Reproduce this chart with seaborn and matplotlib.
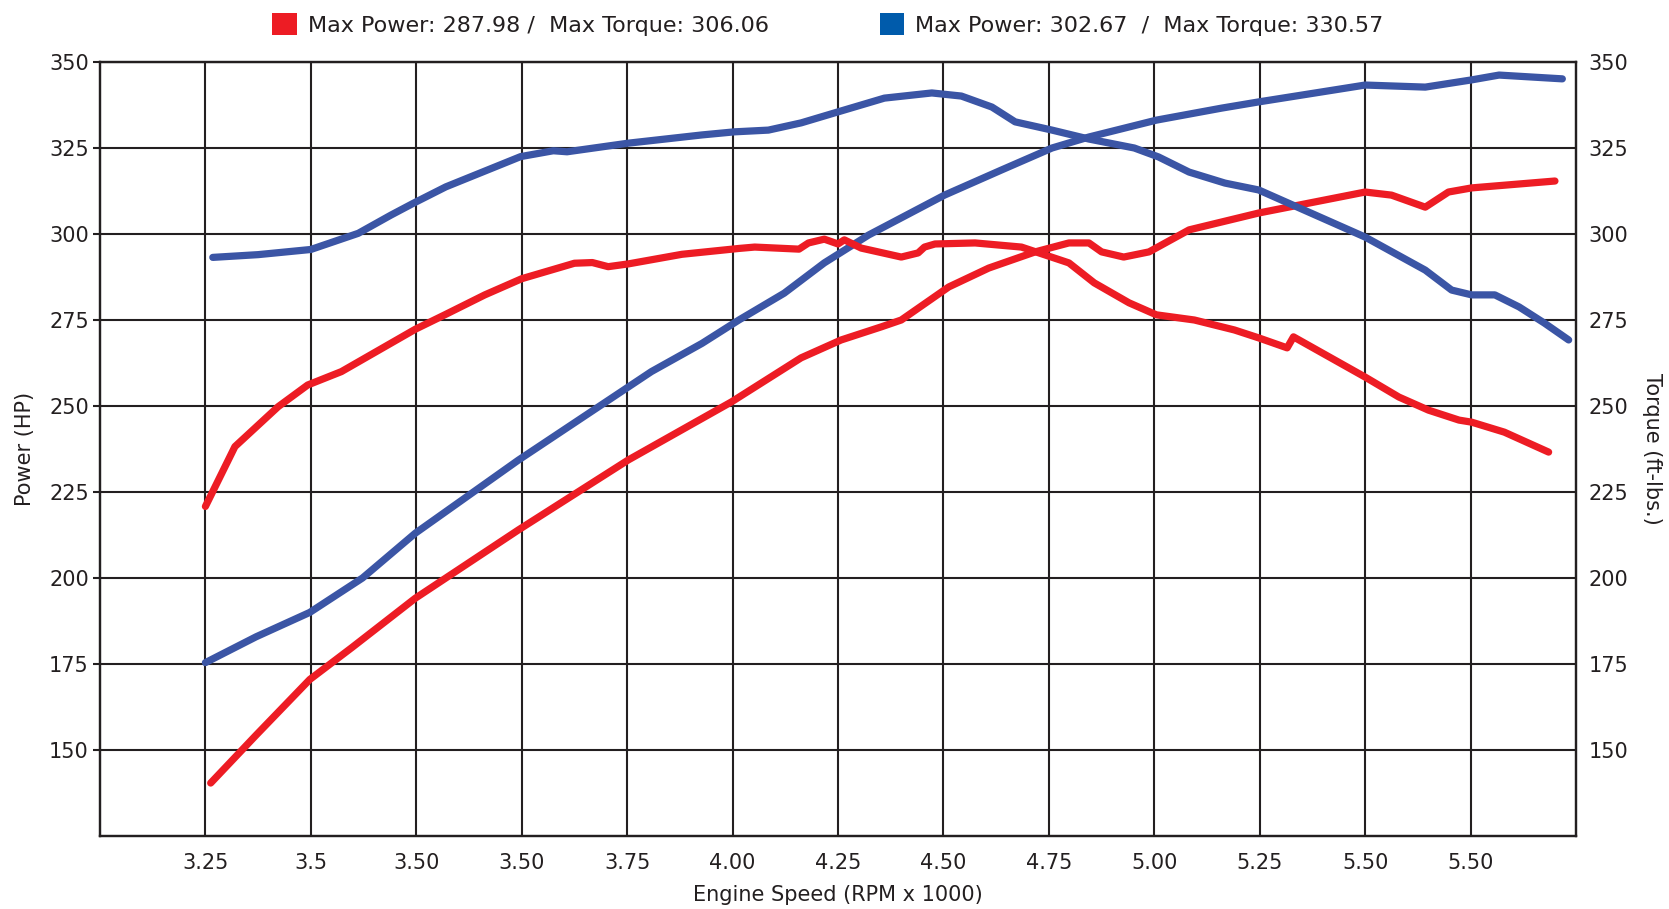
import numpy as np
import pandas as pd
import seaborn as sns
import matplotlib.pyplot as plt
from matplotlib.patches import Patch

# tick labels (as printed on the chart)
rpm_labels = ['3.25', '3.5', '3.50', '3.50', '3.75', '4.00', '4.25',
              '4.50', '4.75', '5.00', '5.25', '5.50', '5.50']
y_ticks = [150, 175, 200, 225, 250, 275, 300, 325, 350]

# run 1 (red) - x in tick-index units
red_power_x = [0.05, 0.48, 0.99, 1.39, 1.99, 2.97, 4.01, 4.99, 5.65, 6.03, 6.41, 6.6, 7.05,
               7.43, 7.87, 8.19, 8.38, 8.5, 8.71, 8.95, 9.33, 9.99, 11.0, 11.25, 11.57,
               11.79, 12.01, 12.8]
red_power_y = [140.4, 154.3, 170.5, 179.8, 194.1, 214.0, 234.3, 251.2, 264.0, 269.2, 273.0,
               275.0, 284.6, 290.1, 294.8, 297.4, 297.4, 294.8, 293.3, 294.8, 301.2, 306.1,
               312.2, 311.3, 307.8, 312.2, 313.4, 315.4]

red_torque_x = [0.0, 0.28, 0.69, 0.97, 1.29, 1.99, 2.27, 2.65, 3.0, 3.5, 3.67, 3.82, 4.01,
                4.52, 5.06, 5.21, 5.63, 5.72, 5.87, 6.0, 6.06, 6.22, 6.6, 6.76, 6.82, 6.92,
                7.3, 7.74, 8.19, 8.43, 8.76, 9.02, 9.38, 9.76, 9.99, 10.26, 10.32, 11.0,
                11.32, 11.6, 11.89, 12.01, 12.32, 12.74]
red_torque_y = [220.8, 238.2, 249.8, 256.1, 260.0, 272.3, 276.5, 282.3, 287.0, 291.5, 291.7,
                290.5, 291.3, 294.1, 295.8, 296.2, 295.6, 297.4, 298.5, 297.1, 298.3, 295.9,
                293.3, 294.5, 296.2, 297.1, 297.4, 296.2, 291.6, 285.8, 280.0, 276.5, 275.0,
                272.1, 269.8, 266.9, 270.1, 258.4, 252.6, 248.8, 245.9, 245.3, 242.4, 236.6]

# run 2 (blue)
blue_power_x = [0.0, 0.48, 0.99, 1.49, 1.99, 2.97, 4.23, 4.71, 5.06, 5.49, 5.87, 6.29,
                7.01, 7.55, 8.03, 8.38, 9.02, 9.64, 9.99, 11.0, 11.57, 12.01, 12.27, 12.87]
blue_power_y = [175.4, 182.9, 190.0, 200.0, 213.0, 234.3, 260.0, 268.2, 275.0, 282.8,
                291.6, 299.7, 311.3, 318.6, 325.0, 328.2, 333.1, 336.6, 338.4, 343.3, 342.7,
                344.8, 346.2, 345.1]

blue_torque_x = [0.07, 0.5, 1.0, 1.45, 1.76, 1.97, 2.28, 2.99, 3.3, 3.43, 4.01, 4.71, 5.02,
                 5.34, 5.65, 6.0, 6.44, 6.89, 7.17, 7.46, 7.68, 8.03, 8.38, 8.81, 9.04, 9.33,
                 9.67, 9.99, 11.0, 11.57, 11.82, 12.01, 12.23, 12.46, 12.7, 12.93]
blue_torque_y = [293.2, 294.0, 295.5, 300.2, 305.5, 308.9, 313.7, 322.5, 324.2, 323.9, 326.4,
                 328.8, 329.7, 330.2, 332.3, 335.5, 339.5, 341.0, 340.1, 336.9, 332.6, 330.2,
                 327.6, 325.0, 322.4, 318.0, 314.8, 312.8, 299.1, 289.5, 283.7, 282.3, 282.3,
                 278.8, 274.1, 269.2]

red = '#ed1c24'
blue = '#3b55a5'
dark = '#231f20'

sns.set_style('white')
plt.rcParams['font.family'] = ['DejaVu Sans']

fig = plt.figure(figsize=(16.69, 9.09), dpi=100)
ax = fig.add_axes([0.0599, 0.0803, 0.8844, 0.8515])
ax2 = ax.twinx()

lw = 5.2
style = dict(linewidth=lw, sort=False, solid_capstyle='round', solid_joinstyle='round')
sns.lineplot(x=red_power_x, y=red_power_y, ax=ax, color=red, **style)
sns.lineplot(x=red_torque_x, y=red_torque_y, ax=ax2, color=red, **style)
sns.lineplot(x=blue_power_x, y=blue_power_y, ax=ax, color=blue, **style)
sns.lineplot(x=blue_torque_x, y=blue_torque_y, ax=ax2, color=blue, **style)

for a in (ax, ax2):
    a.set_xlim(-1, 13)
    a.set_ylim(125, 350)
    a.set_yticks(y_ticks)
    for s in a.spines.values():
        s.set_color(dark)
        s.set_linewidth(1.6)

ax.set_xticks(range(len(rpm_labels)))
ax.set_xticklabels(rpm_labels)
ax.grid(True, color=dark, linewidth=1.5)
ax.set_axisbelow(True)
ax.tick_params(axis='x', length=6, width=1.5, color=dark, pad=6, labelsize=15, labelcolor=dark)
ax.tick_params(axis='y', length=5, width=1.5, color=dark, pad=3, labelsize=15, labelcolor=dark)
ax2.tick_params(axis='y', length=0, pad=9, labelsize=15, labelcolor=dark)
ax2.grid(False)

ax.set_xlabel('Engine Speed (RPM x 1000)', fontsize=15, color=dark, labelpad=9)
ax.set_ylabel('Power (HP)', fontsize=15, color=dark, labelpad=10)
ax2.set_ylabel('Torque (ft-lbs.)', fontsize=15, color=dark, rotation=270, labelpad=24)

handles = [Patch(facecolor=red, edgecolor='none'), Patch(facecolor='#005bab', edgecolor='none')]
labels = ['Max Power: 287.98 /  Max Torque: 306.06', 'Max Power: 302.67  /  Max Torque: 330.57']
fig.legend(handles, labels, loc='center', bbox_to_anchor=(0.496, 0.973), ncol=2, frameon=False,
           fontsize=16, handlelength=1.1, handleheight=1.1, handletextpad=0.5, columnspacing=5.0,
           labelcolor=dark)

fig.savefig('out.png', dpi=100)
